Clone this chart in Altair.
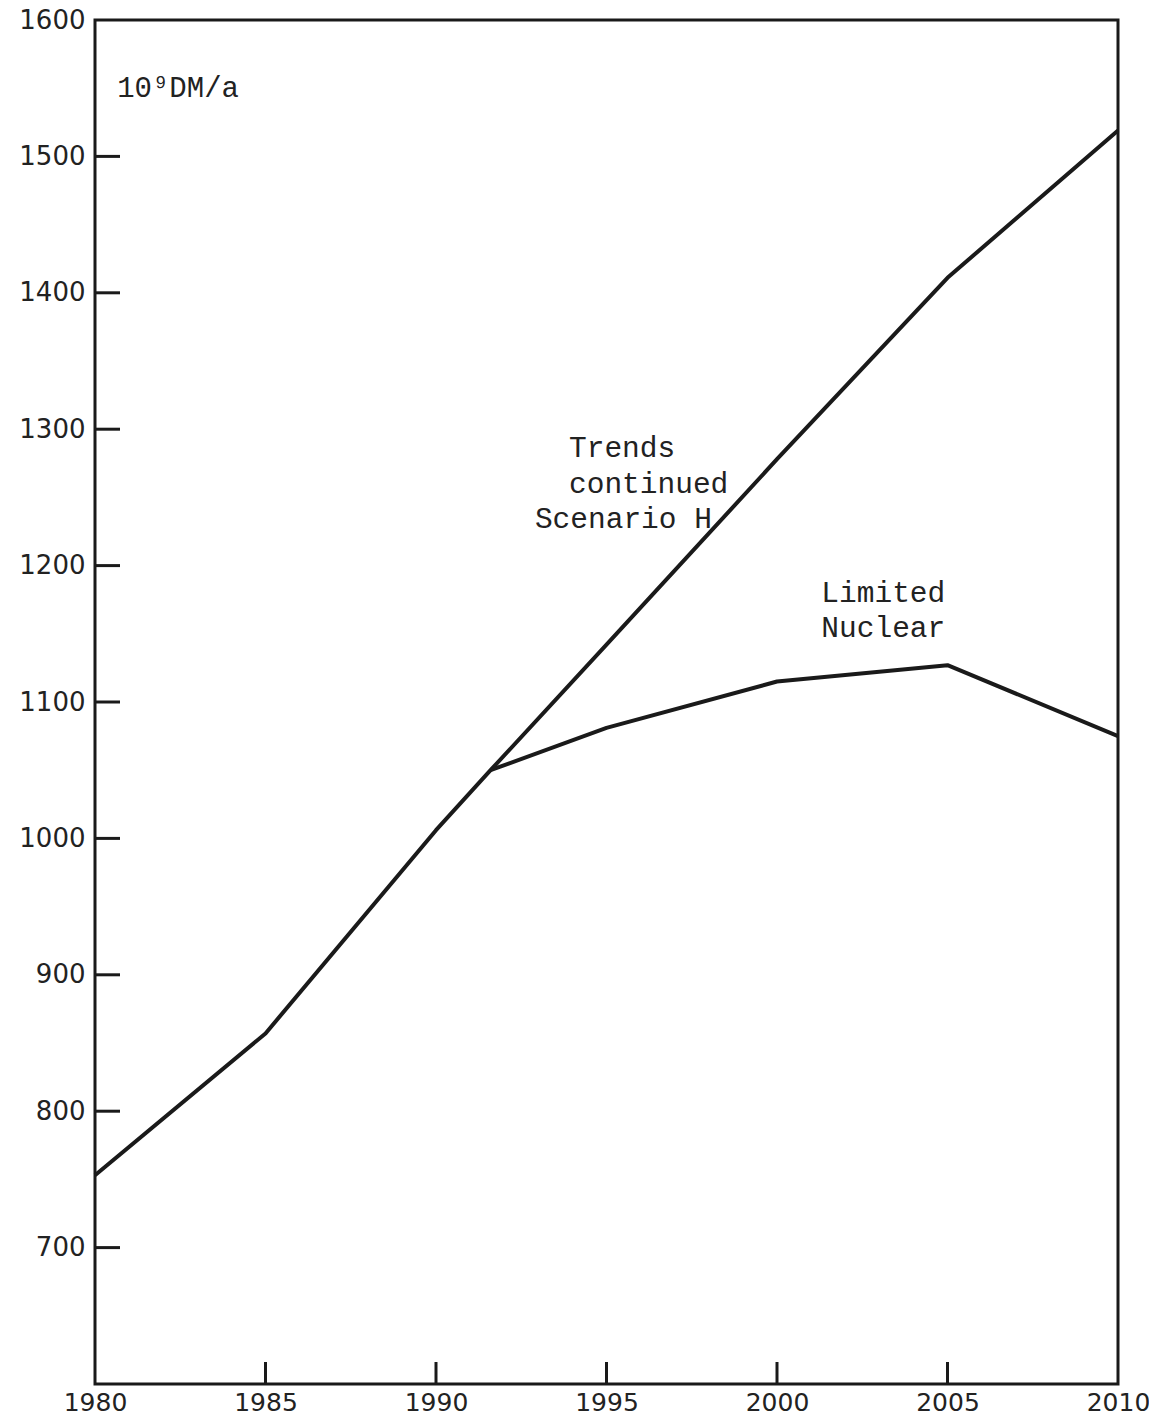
import altair as alt
import pandas as pd

# Data
trend_years = [1980, 1985, 1990, 1991.6, 1995, 2000, 2005, 2010]
trend_values = [753, 857, 1006, 1050, 1142, 1278, 1411, 1519]

limited_years = [1991.6, 1995, 2000, 2005, 2010]
limited_values = [1050, 1081, 1115, 1127, 1075]

x_ticks = [1985, 1990, 1995, 2000, 2005]
y_ticks = [700, 800, 900, 1000, 1100, 1200, 1300, 1400, 1500]
x_labels = [1980, 1985, 1990, 1995, 2000, 2005, 2010]
y_labels = [700, 800, 900, 1000, 1100, 1200, 1300, 1400, 1500, 1600]

label_years = [1993.9, 1993.9, 1992.9, 2001.3, 2001.3]
label_values = [1286, 1260, 1234, 1180, 1154]
label_texts = ["Trends", "continued", "Scenario H", "Limited", "Nuclear"]

unit_text = "10⁹DM/a"

W, H = 1023, 1364

lines = pd.DataFrame(
    [{"year": y, "value": v, "series": "Trends continued"} for y, v in zip(trend_years, trend_values)]
    + [{"year": y, "value": v, "series": "Limited Nuclear"} for y, v in zip(limited_years, limited_values)]
)

xscale = alt.Scale(domain=[1980, 2010], nice=False, zero=False)
yscale = alt.Scale(domain=[600, 1600], nice=False, zero=False)

base_axis = dict(
    domain=False, ticks=False, grid=False, labelFlush=False, labelBound=False,
    labelFont="DejaVu Sans", labelColor="#222",
)

line = alt.Chart(lines).mark_line(color="#1a1a1a", strokeWidth=4, strokeJoin="round").encode(
    x=alt.X("year:Q", scale=xscale,
            axis=alt.Axis(values=x_labels, format="d", labelPadding=6, labelFontSize=25,
                          title=None, **base_axis)),
    y=alt.Y("value:Q", scale=yscale,
            axis=alt.Axis(values=y_labels, format="d", labelPadding=10, labelFontSize=26,
                          title=None, **base_axis)),
    detail="series:N",
)

ytick_df = pd.DataFrame({"value": y_ticks})
ytick = alt.Chart(ytick_df).mark_rule(color="#1a1a1a", strokeWidth=3).encode(
    y=alt.Y("value:Q", scale=yscale),
    x=alt.value(0),
    x2=alt.value(25),
)

xtick_df = pd.DataFrame({"year": x_ticks})
xtick = alt.Chart(xtick_df).mark_rule(color="#1a1a1a", strokeWidth=3).encode(
    x=alt.X("year:Q", scale=xscale),
    y=alt.value(H),
    y2=alt.value(H - 22),
)

label_df = pd.DataFrame({"year": label_years, "value": label_values, "text": label_texts})
labels = alt.Chart(label_df).mark_text(
    font="Liberation Mono", fontSize=29.5, color="#222", align="left", baseline="middle"
).encode(
    x=alt.X("year:Q", scale=xscale),
    y=alt.Y("value:Q", scale=yscale),
    text="text:N",
)

unit_df = pd.DataFrame([{"year": 1980.65, "value": 1550, "text": unit_text}])
unit = alt.Chart(unit_df).mark_text(
    font="Liberation Mono", fontSize=29, color="#222", align="left", baseline="middle"
).encode(
    x=alt.X("year:Q", scale=xscale),
    y=alt.Y("value:Q", scale=yscale),
    text="text:N",
)

chart = alt.layer(line, ytick, xtick, labels, unit).properties(
    width=W, height=H,
    autosize=alt.AutoSizeParams(type="none"),
    padding={"left": 87, "top": 12, "right": 31, "bottom": 40},
    background="white",
).configure_view(
    stroke="#1a1a1a", strokeWidth=3
)

chart.save("out.html", embed_options={"renderer": "svg", "actions": False})
